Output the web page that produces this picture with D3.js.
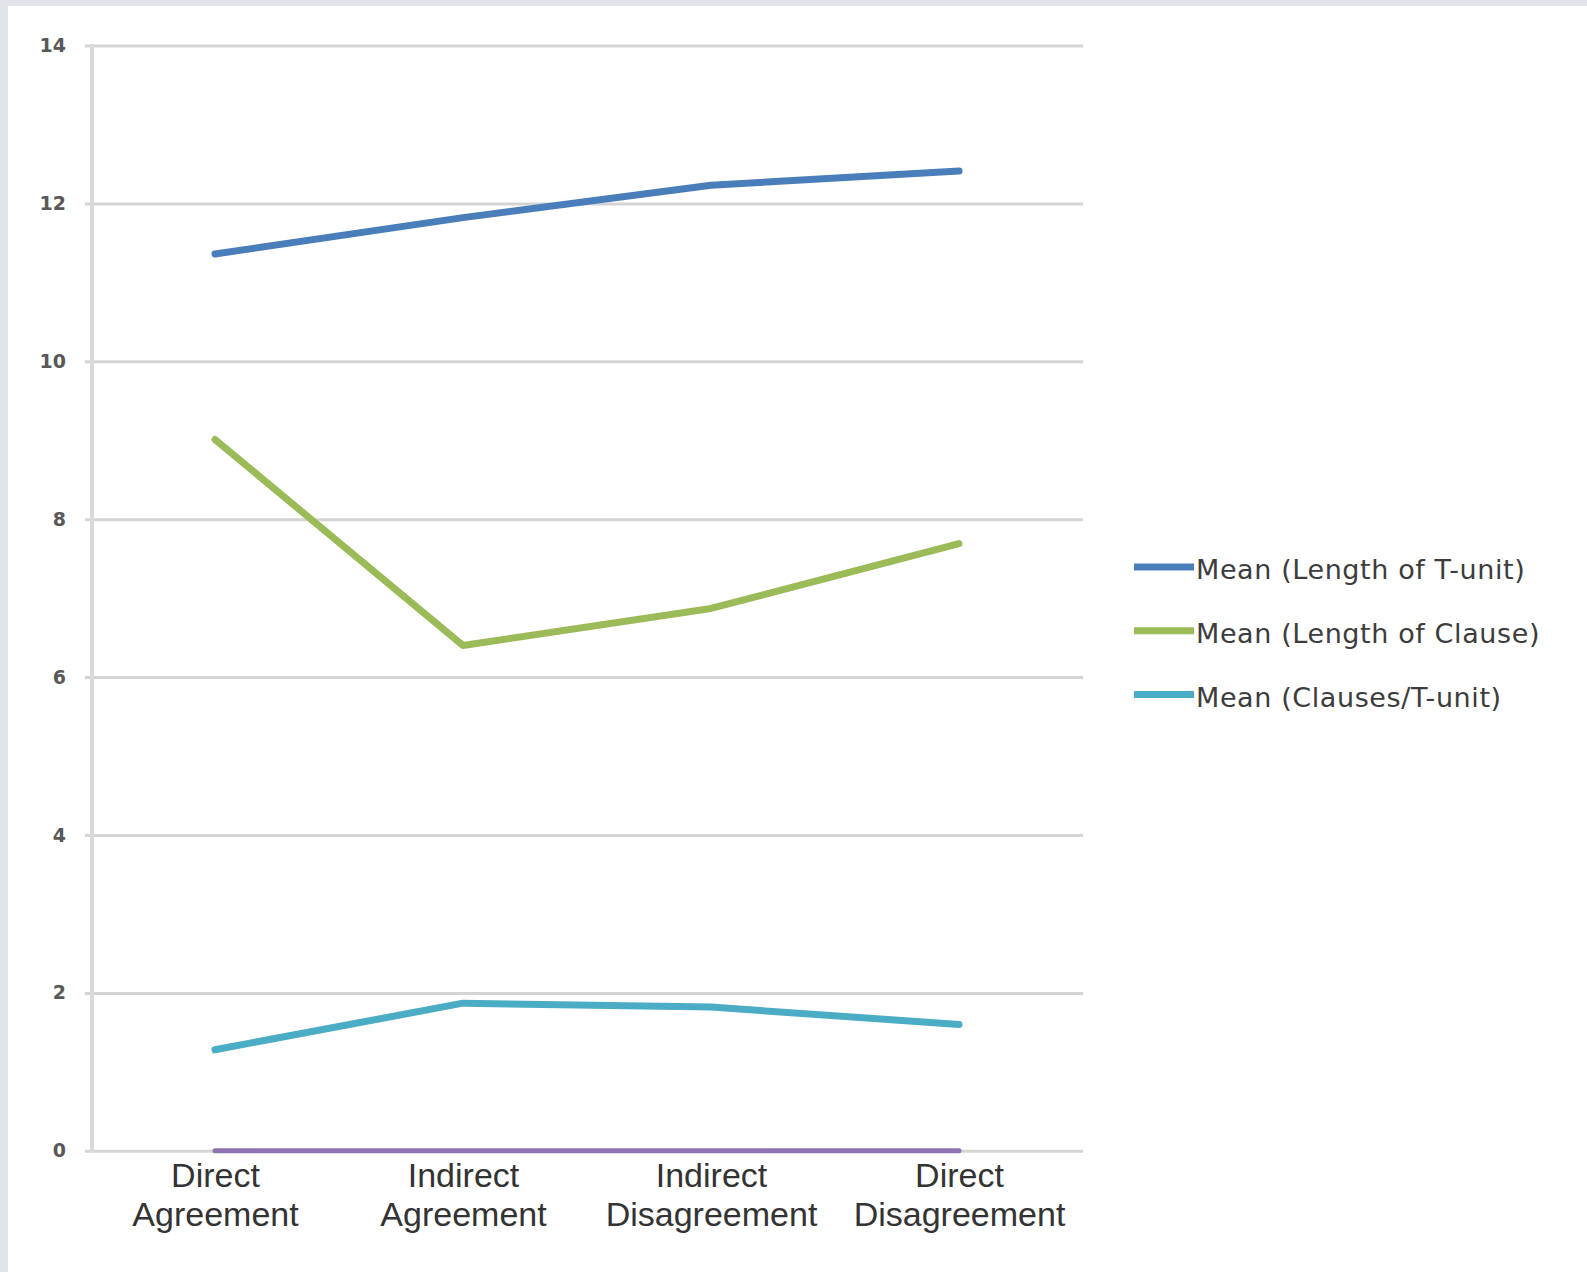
<!DOCTYPE html>
<html>
<head>
<meta charset="utf-8">
<script src="https://cdn.jsdelivr.net/npm/d3@7"></script>
<style>
  html, body { margin: 0; padding: 0; background: #e1e4e9; }
  svg { display: block; }
</style>
</head>
<body>
<svg id="chart" width="1587" height="1272"></svg>
<script>
// Categories along the x axis (each label is two lines)
const categories = [
  ["Direct", "Agreement"],
  ["Indirect", "Agreement"],
  ["Indirect", "Disagreement"],
  ["Direct", "Disagreement"]
];

// Series values, one per category
const lengthOfTUnit  = [11.36, 11.82, 12.23, 12.41];
const lengthOfClause = [9.01, 6.40, 6.87, 7.69];
const clausesPerTUnit = [1.28, 1.87, 1.82, 1.60];
const baselineSeries = [0, 0, 0, 0];

const seriesNames = [
  "Mean (Length of T-unit)",
  "Mean (Length of Clause)",
  "Mean (Clauses/T-unit)"
];

// Y axis tick labels
const yTicks = [0, 2, 4, 6, 8, 10, 12, 14];

const series = [
  { name: seriesNames[0], values: lengthOfTUnit,   color: "#4a7ebb", legend: true },
  { name: seriesNames[1], values: lengthOfClause,  color: "#9bbb59", legend: true },
  { name: seriesNames[2], values: clausesPerTUnit, color: "#4bacc6", legend: true },
  { name: "",             values: baselineSeries,  color: "#8f73b0", legend: false }
];

const svg = d3.select("#chart");

// white sheet
svg.append("rect")
  .attr("x", 8).attr("y", 6)
  .attr("width", 1587 - 8).attr("height", 1272 - 6)
  .attr("fill", "#ffffff");

const plotLeft = 91, plotRight = 1083, plotTop = 45.5, plotBottom = 1150.8;

const x = d3.scalePoint()
  .domain(d3.range(categories.length))
  .range([plotLeft, plotRight])
  .padding(0.5);

const y = d3.scaleLinear()
  .domain([0, 14])
  .range([plotBottom, plotTop]);

// horizontal gridlines + y tick labels
const yAxis = d3.axisLeft(y)
  .tickValues(yTicks)
  .tickFormat(d3.format("d"))
  .tickSize(-(plotRight - 85))
  .tickPadding(19);

const gy = svg.append("g")
  .attr("transform", "translate(85,0)")
  .call(yAxis);
gy.select(".domain").remove();
gy.selectAll(".tick line")
  .attr("stroke", "#d4d4d4")
  .attr("stroke-width", 3);
gy.selectAll(".tick text")
  .attr("fill", "#585858")
  .attr("font-family", "'DejaVu Sans', sans-serif")
  .attr("font-size", 19)
  .attr("font-weight", "bold");

// vertical axis line
svg.append("line")
  .attr("x1", plotLeft + 1).attr("x2", plotLeft + 1)
  .attr("y1", y(14) - 1.5).attr("y2", y(0) + 1.5)
  .attr("stroke", "#d9d9d9")
  .attr("stroke-width", 4);

// category labels
const xAxis = d3.axisBottom(x).tickSize(0).tickFormat(() => "");
const gx = svg.append("g")
  .attr("transform", `translate(0,${plotBottom})`)
  .call(xAxis);
gx.select(".domain").remove();
gx.selectAll(".tick").each(function(d) {
  const t = d3.select(this).append("text")
    .attr("text-anchor", "middle")
    .attr("fill", "#333333")
    .attr("font-family", "'Liberation Sans', Arial, sans-serif")
    .attr("font-size", 34);
  categories[d].forEach((line, i) => {
    t.append("tspan")
      .attr("x", 0)
      .attr("y", 36 + i * 39.5)
      .text(line);
  });
});

// series lines
const line = d3.line()
  .x((d, i) => x(i))
  .y(d => y(d));

svg.append("g")
  .selectAll("path")
  .data(series.slice().reverse())
  .join("path")
  .attr("d", d => line(d.values))
  .attr("fill", "none")
  .attr("stroke", d => d.color)
  .attr("stroke-width", d => d.legend ? 7 : 5)
  .attr("stroke-linejoin", "round")
  .attr("stroke-linecap", "round");

// legend
const legendItems = series.filter(s => s.legend);
const legend = svg.append("g")
  .attr("transform", "translate(1134,567)");
const item = legend.selectAll("g")
  .data(legendItems)
  .join("g")
  .attr("transform", (d, i) => `translate(0,${i * 63.7})`);
item.append("line")
  .attr("x1", 0).attr("x2", 60)
  .attr("y1", 0).attr("y2", 0)
  .attr("stroke", d => d.color)
  .attr("stroke-width", 7);
item.append("text")
  .attr("x", 62)
  .attr("y", 3)
  .attr("dy", "0.35em")
  .attr("fill", "#3c3c3c")
  .attr("font-family", "'DejaVu Sans', sans-serif")
  .attr("font-size", 27)
  .attr("letter-spacing", 0.6)
  .text(d => d.name);
</script>
</body>
</html>
